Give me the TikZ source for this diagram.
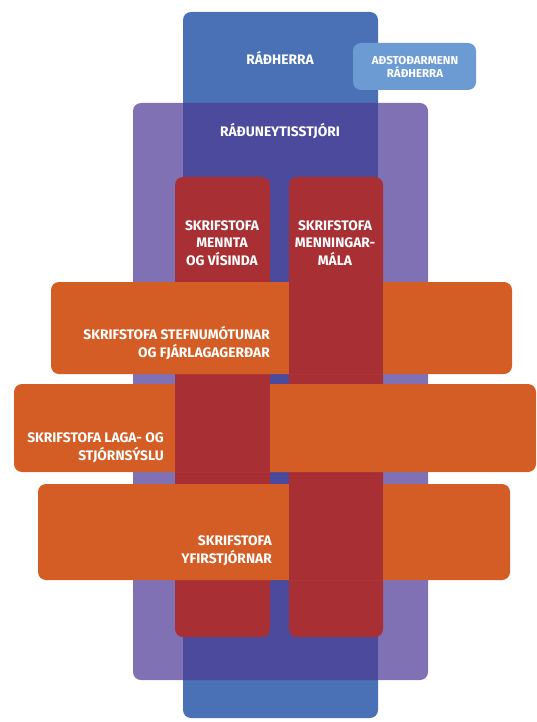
\documentclass[tikz,border=0pt]{standalone}
\usepackage{fontspec}
\setmainfont{Fira Sans}
\usepackage{tikz}
\usetikzlibrary{positioning}

\definecolor{rhblue}{HTML}{4A70B6}
\definecolor{rsviolet}{HTML}{8070B4}
\definecolor{rsindigo}{HTML}{4B4A9C}
\definecolor{astblue}{HTML}{6C9BD3}
\definecolor{skred}{HTML}{A83034}
\definecolor{skorange}{HTML}{D45D26}

\tikzset{
  box/.style={rectangle, rounded corners=8pt, inner sep=0pt, outer sep=0pt, anchor=north west},
  lbl/.style={text=white, font=\bfseries\fontsize{13.8}{17.5}\selectfont, inner sep=0pt},
  smalllbl/.style={lbl, font=\bfseries\fontsize{11.5}{13.5}\selectfont},
}

\begin{document}
\begin{tikzpicture}[x=1pt,y=-1pt]
\useasboundingbox (0,0) rectangle (537,722);

\node (rs) [box, fill=rsviolet, minimum width=295pt, minimum height=577pt] at (133,103) {};
\node (rh) [box, fill=rhblue, minimum width=195pt, minimum height=706pt] at (183,12) {};
\begin{scope}
\clip[rounded corners=8pt] (rs.north west) rectangle (rs.south east);
\fill[rsindigo] (rh.north west) rectangle (rh.south east);
\end{scope}
\node (ast) [box, fill=astblue, minimum width=123pt, minimum height=47pt] at (353,43) {};

\node (mv) [box, fill=skred, minimum width=95pt, minimum height=460pt] at (175,177) {};
\node (mm) [box, fill=skred, minimum width=94pt, minimum height=460pt] at (289,177) {};

\node (sf) [box, fill=skorange, minimum width=461pt, minimum height=92pt] at (51,282) {};
\node (ls) [box, fill=skorange, minimum width=522pt, minimum height=88pt] at (14,384) {};
\node (yf) [box, fill=skorange, minimum width=472pt, minimum height=96pt] at (38,484) {};

\fill[skred] (mm.west |- sf.north) rectangle (mm.east |- sf.south);
\fill[skred] (mm.west |- yf.north) rectangle (mm.east |- yf.south);
\fill[skred] (mv.west |- ls.north) rectangle (mv.east |- ls.south);

\node (trh) [lbl] at (280,58) {RÁÐHERRA};
\node (tast) [smalllbl, align=center] at (415,67) {AÐSTOÐARMENN\\RÁÐHERRA};
\node (trs) [lbl] at (280,131) {RÁÐUNEYTISSTJÓRI};
\node (tmv) [lbl, align=center] at (222,243) {SKRIFSTOFA\\MENNTA\\OG VÍSINDA};
\node (tmm) [lbl, align=center] at (335,243) {SKRIFSTOFA\\MENNINGAR-\\MÁLA};
\node (tsf) [lbl, align=right, anchor=east] at (270,343) {SKRIFSTOFA STEFNUMÓTUNAR\\OG FJÁRLAGAGERÐAR};
\node (tls) [lbl, align=right, anchor=east] at (164,448) {SKRIFSTOFA LAGA- OG\\STJÓRNSÝSLU};
\node (tyf) [lbl, align=right, anchor=east] at (272,551) {SKRIFSTOFA\\YFIRSTJÓRNAR};
\end{tikzpicture}
\end{document}
